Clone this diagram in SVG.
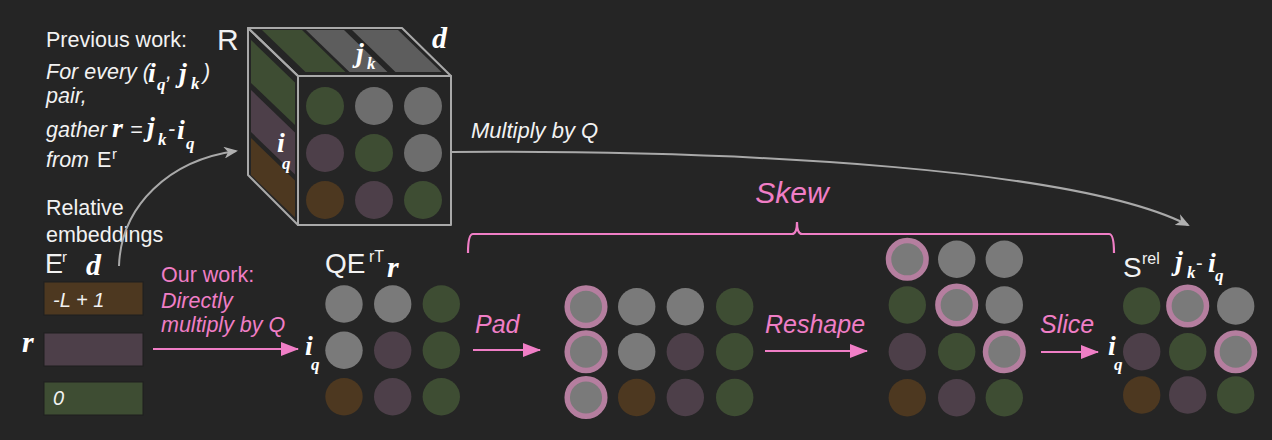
<svg xmlns="http://www.w3.org/2000/svg" width="1272" height="440" viewBox="0 0 1272 440">
<style>
.t{font-family:'Liberation Sans',Arial,sans-serif;fill:#f2f2f2;font-size:21.5px}
.it{font-style:italic}
.m{font-family:'Liberation Serif','Times New Roman',serif;font-weight:bold;font-style:italic;fill:#fff;font-size:28px}
.sb{font-size:17px}
.pk{fill:#f07ec6}
.gy{fill:#7a7a7a}
.gn{fill:#3e4d33}
.pu{fill:#4d3f49}
.br{fill:#4d3820}
.cgy{fill:#6d6d6d}
.sgy{fill:#5d5d5d}
.ring{stroke:#b57e9f;stroke-width:5.5}
.edge{fill:none;stroke:#a9a9a9;stroke-width:2;stroke-linejoin:round}
.gc{fill:none;stroke:#a9a9a9;stroke-width:2}
.pc{fill:none;stroke:#f07ec6;stroke-width:2.2}
.box{stroke:#1f1f1f;stroke-width:1}
</style>
<defs>
<marker id="ga" viewBox="0 0 14 12" refX="12" refY="6" markerWidth="14" markerHeight="12" markerUnits="userSpaceOnUse" orient="auto">
<path d="M0,0 L14,6 L0,12 L4,6 z" fill="#b0b0b0"/>
</marker>
<marker id="pa" viewBox="0 0 18 14" refX="17" refY="7" markerWidth="18" markerHeight="14" markerUnits="userSpaceOnUse" orient="auto">
<path d="M0,0 L18,7 L0,14 z" fill="#f07ec6"/>
</marker>
</defs>
<rect width="1272" height="440" fill="#252525"/>

<g id="prev-text">
<text class="t" x="46" y="47">Previous work:</text>
<text class="t it" x="46" y="79">For every (</text>
<text class="m" x="148" y="82">i</text>
<text class="m sb" x="157" y="90">q</text>
<text class="t it" x="166" y="79">,</text>
<text class="m" x="179" y="82">j</text>
<text class="m sb" x="191" y="89">k</text>
<text class="t it" x="203" y="79">)</text>
<text class="t it" x="46" y="103">pair,</text>
<text class="t it" x="46" y="137">gather</text>
<text class="m" x="112" y="137">r</text>
<text class="t it" x="130" y="137">=</text>
<text class="m" x="147" y="136">j</text>
<text class="m sb" x="158" y="145">k</text>
<text class="t it" x="168" y="136">-</text>
<text class="m" x="177" y="139">i</text>
<text class="m sb" x="186" y="149">q</text>
<text class="t it" x="46" y="167">from</text>
<text class="t" x="97" y="167">E</text>
<text class="t" x="112" y="159" style="font-size:15px">r</text>
</g>

<g id="embeddings">
<text class="t" x="46" y="215">Relative</text>
<text class="t" x="46" y="242">embeddings</text>
<text class="t" x="45" y="273" style="font-size:27px">E</text>
<text class="t" x="62" y="262" style="font-size:15px">r</text>
<text class="m" x="86" y="275" style="font-size:30px">d</text>
<text class="m" x="22" y="352" style="font-size:30px">r</text>
<rect class="br box" x="44" y="282" width="99" height="33"/>
<rect class="pu box" x="44" y="333" width="99" height="33"/>
<rect class="gn box" x="44" y="382" width="99" height="33"/>
<text class="t it" x="53" y="307" style="font-size:20px">-L + 1</text>
<text class="t it" x="53" y="405" style="font-size:20px">0</text>
</g>

<g id="cube">
<text class="t" x="217" y="50" style="font-size:30px">R</text>
<polygon class="gn" points="262,30 302,30 345.5,72 305.5,72"/>
<polygon class="sgy" points="306,30 344,30 387.5,72 349.5,72"/>
<polygon class="sgy" points="352,30 398,30 441.5,72 395.5,72"/>
<polygon class="gn" points="251,40 295,82.5 295,125 251,83"/>
<polygon class="pu" points="251,90 295,132.5 295,174.5 251,132"/>
<polygon class="br" points="251,138 295,180.5 295,217.5 251,175"/>
<polygon class="edge" points="248,28 402,28 451,76 298,76"/>
<polygon class="edge" points="248,28 298,76 298,225 248,175"/>
<rect class="edge" x="298" y="76" width="153" height="149"/>
<circle class="gn" cx="325" cy="106" r="19"/>
<circle class="cgy" cx="374" cy="106" r="19"/>
<circle class="cgy" cx="423" cy="106" r="19"/>
<circle class="pu" cx="325" cy="153" r="19"/>
<circle class="gn" cx="374" cy="153" r="19"/>
<circle class="cgy" cx="423" cy="153" r="19"/>
<circle class="br" cx="325" cy="200" r="19"/>
<circle class="pu" cx="374" cy="200" r="19"/>
<circle class="gn" cx="423" cy="200" r="19"/>
<text class="m" x="432" y="48" style="font-size:30px">d</text>
<text class="m" x="356" y="62">j</text>
<text class="m sb" x="367" y="69">k</text>
<text class="m" x="277" y="152">i</text>
<text class="m sb" x="282" y="169">q</text>
</g>

<g id="our-work">
<text class="t pk" x="161" y="282">Our work:</text>
<text class="t it pk" x="161" y="308">Directly</text>
<text class="t it pk" x="161" y="332">multiply by Q</text>
</g>

<g id="qer">
<text class="t" x="325" y="273" style="font-size:28px">QE</text>
<text class="t" x="369" y="262" style="font-size:16px">rT</text>
<text class="m" x="387" y="277" style="font-size:30px">r</text>
<text class="m" x="305" y="355">i</text>
<text class="m sb" x="311" y="370">q</text>
<circle class="gy" cx="344" cy="304" r="18.7"/>
<circle class="gy" cx="392.7" cy="304" r="18.7"/>
<circle class="gn" cx="441.3" cy="304" r="18.7"/>
<circle class="gy" cx="344" cy="350.3" r="18.7"/>
<circle class="pu" cx="392.7" cy="350.3" r="18.7"/>
<circle class="gn" cx="441.3" cy="350.3" r="18.7"/>
<circle class="br" cx="344" cy="396.7" r="18.7"/>
<circle class="pu" cx="392.7" cy="396.7" r="18.7"/>
<circle class="gn" cx="441.3" cy="396.7" r="18.7"/>
</g>

<g id="padded">
<circle class="gy ring" cx="586" cy="306.7" r="18.8"/>
<circle class="gy" cx="636.7" cy="306.7" r="18.7"/>
<circle class="gy" cx="685.3" cy="306.7" r="18.7"/>
<circle class="gn" cx="734.7" cy="306.7" r="18.7"/>
<circle class="gy ring" cx="586" cy="351.7" r="18.8"/>
<circle class="gy" cx="636.7" cy="351.7" r="18.7"/>
<circle class="pu" cx="685.3" cy="351.7" r="18.7"/>
<circle class="gn" cx="734.7" cy="351.7" r="18.7"/>
<circle class="gy ring" cx="586" cy="397.5" r="18.8"/>
<circle class="br" cx="636.7" cy="397.5" r="18.7"/>
<circle class="pu" cx="685.3" cy="397.5" r="18.7"/>
<circle class="gn" cx="734.7" cy="397.5" r="18.7"/>
</g>

<g id="reshaped">
<circle class="gy ring" cx="907.3" cy="259.3" r="18.8"/>
<circle class="gy" cx="956.7" cy="259.3" r="18.7"/>
<circle class="gy" cx="1004.3" cy="259.3" r="18.7"/>
<circle class="gn" cx="907.3" cy="305" r="18.7"/>
<circle class="gy ring" cx="956.7" cy="305" r="18.8"/>
<circle class="gy" cx="1004.3" cy="305" r="18.7"/>
<circle class="pu" cx="907.3" cy="351.7" r="18.7"/>
<circle class="gn" cx="956.7" cy="351.7" r="18.7"/>
<circle class="gy ring" cx="1004.3" cy="351.7" r="18.8"/>
<circle class="br" cx="907.3" cy="397.7" r="18.7"/>
<circle class="pu" cx="956.7" cy="397.7" r="18.7"/>
<circle class="gn" cx="1004.3" cy="397.7" r="18.7"/>
</g>

<g id="srel">
<text class="t" x="1123" y="277" style="font-size:28px">S</text>
<text class="t" x="1142" y="264" style="font-size:16px">rel</text>
<text class="m" x="1175" y="270">j</text>
<text class="m sb" x="1187" y="278">k</text>
<text class="t" x="1196" y="270" style="font-size:20px">-</text>
<text class="m" x="1208" y="272">i</text>
<text class="m sb" x="1215" y="281">q</text>
<text class="m" x="1108" y="355">i</text>
<text class="m sb" x="1114" y="370">q</text>
<circle class="gn" cx="1141.7" cy="306" r="18.7"/>
<circle class="gy ring" cx="1187.7" cy="306" r="18.8"/>
<circle class="gy" cx="1235.7" cy="306" r="18.7"/>
<circle class="pu" cx="1141.7" cy="351.7" r="18.7"/>
<circle class="gn" cx="1187.7" cy="351.7" r="18.7"/>
<circle class="gy ring" cx="1235.7" cy="351.7" r="18.8"/>
<circle class="br" cx="1141.7" cy="395" r="18.7"/>
<circle class="pu" cx="1187.7" cy="395" r="18.7"/>
<circle class="gn" cx="1235.7" cy="395" r="18.7"/>
</g>

<g id="skew">
<text class="t it pk" x="792" y="203" style="font-size:30px" text-anchor="middle">Skew</text>
<path class="pc" d="M468,253 Q468,234 473,234 L792,234 Q797,234 797,222 Q797,234 802,234 L1109,234 Q1114,234 1114,253"/>
</g>

<g id="connectors">
<path class="gc" d="M451,152 C760,150 1080,170 1188,225" marker-end="url(#ga)"/>
<text class="t it" x="471" y="138" style="font-size:22px">Multiply by Q</text>
<path class="gc" d="M119,266 C121,205 170,160 236,151" marker-end="url(#ga)"/>
<line class="pc" x1="153" y1="349" x2="298" y2="349" marker-end="url(#pa)"/>
<line class="pc" x1="473" y1="350" x2="540" y2="350" marker-end="url(#pa)"/>
<text class="t it pk" x="475" y="333" style="font-size:25px">Pad</text>
<line class="pc" x1="765" y1="351" x2="867" y2="351" marker-end="url(#pa)"/>
<text class="t it pk" x="765" y="333" style="font-size:25px">Reshape</text>
<line class="pc" x1="1041" y1="352" x2="1098" y2="352" marker-end="url(#pa)"/>
<text class="t it pk" x="1040" y="333" style="font-size:25px">Slice</text>
</g>
</svg>
